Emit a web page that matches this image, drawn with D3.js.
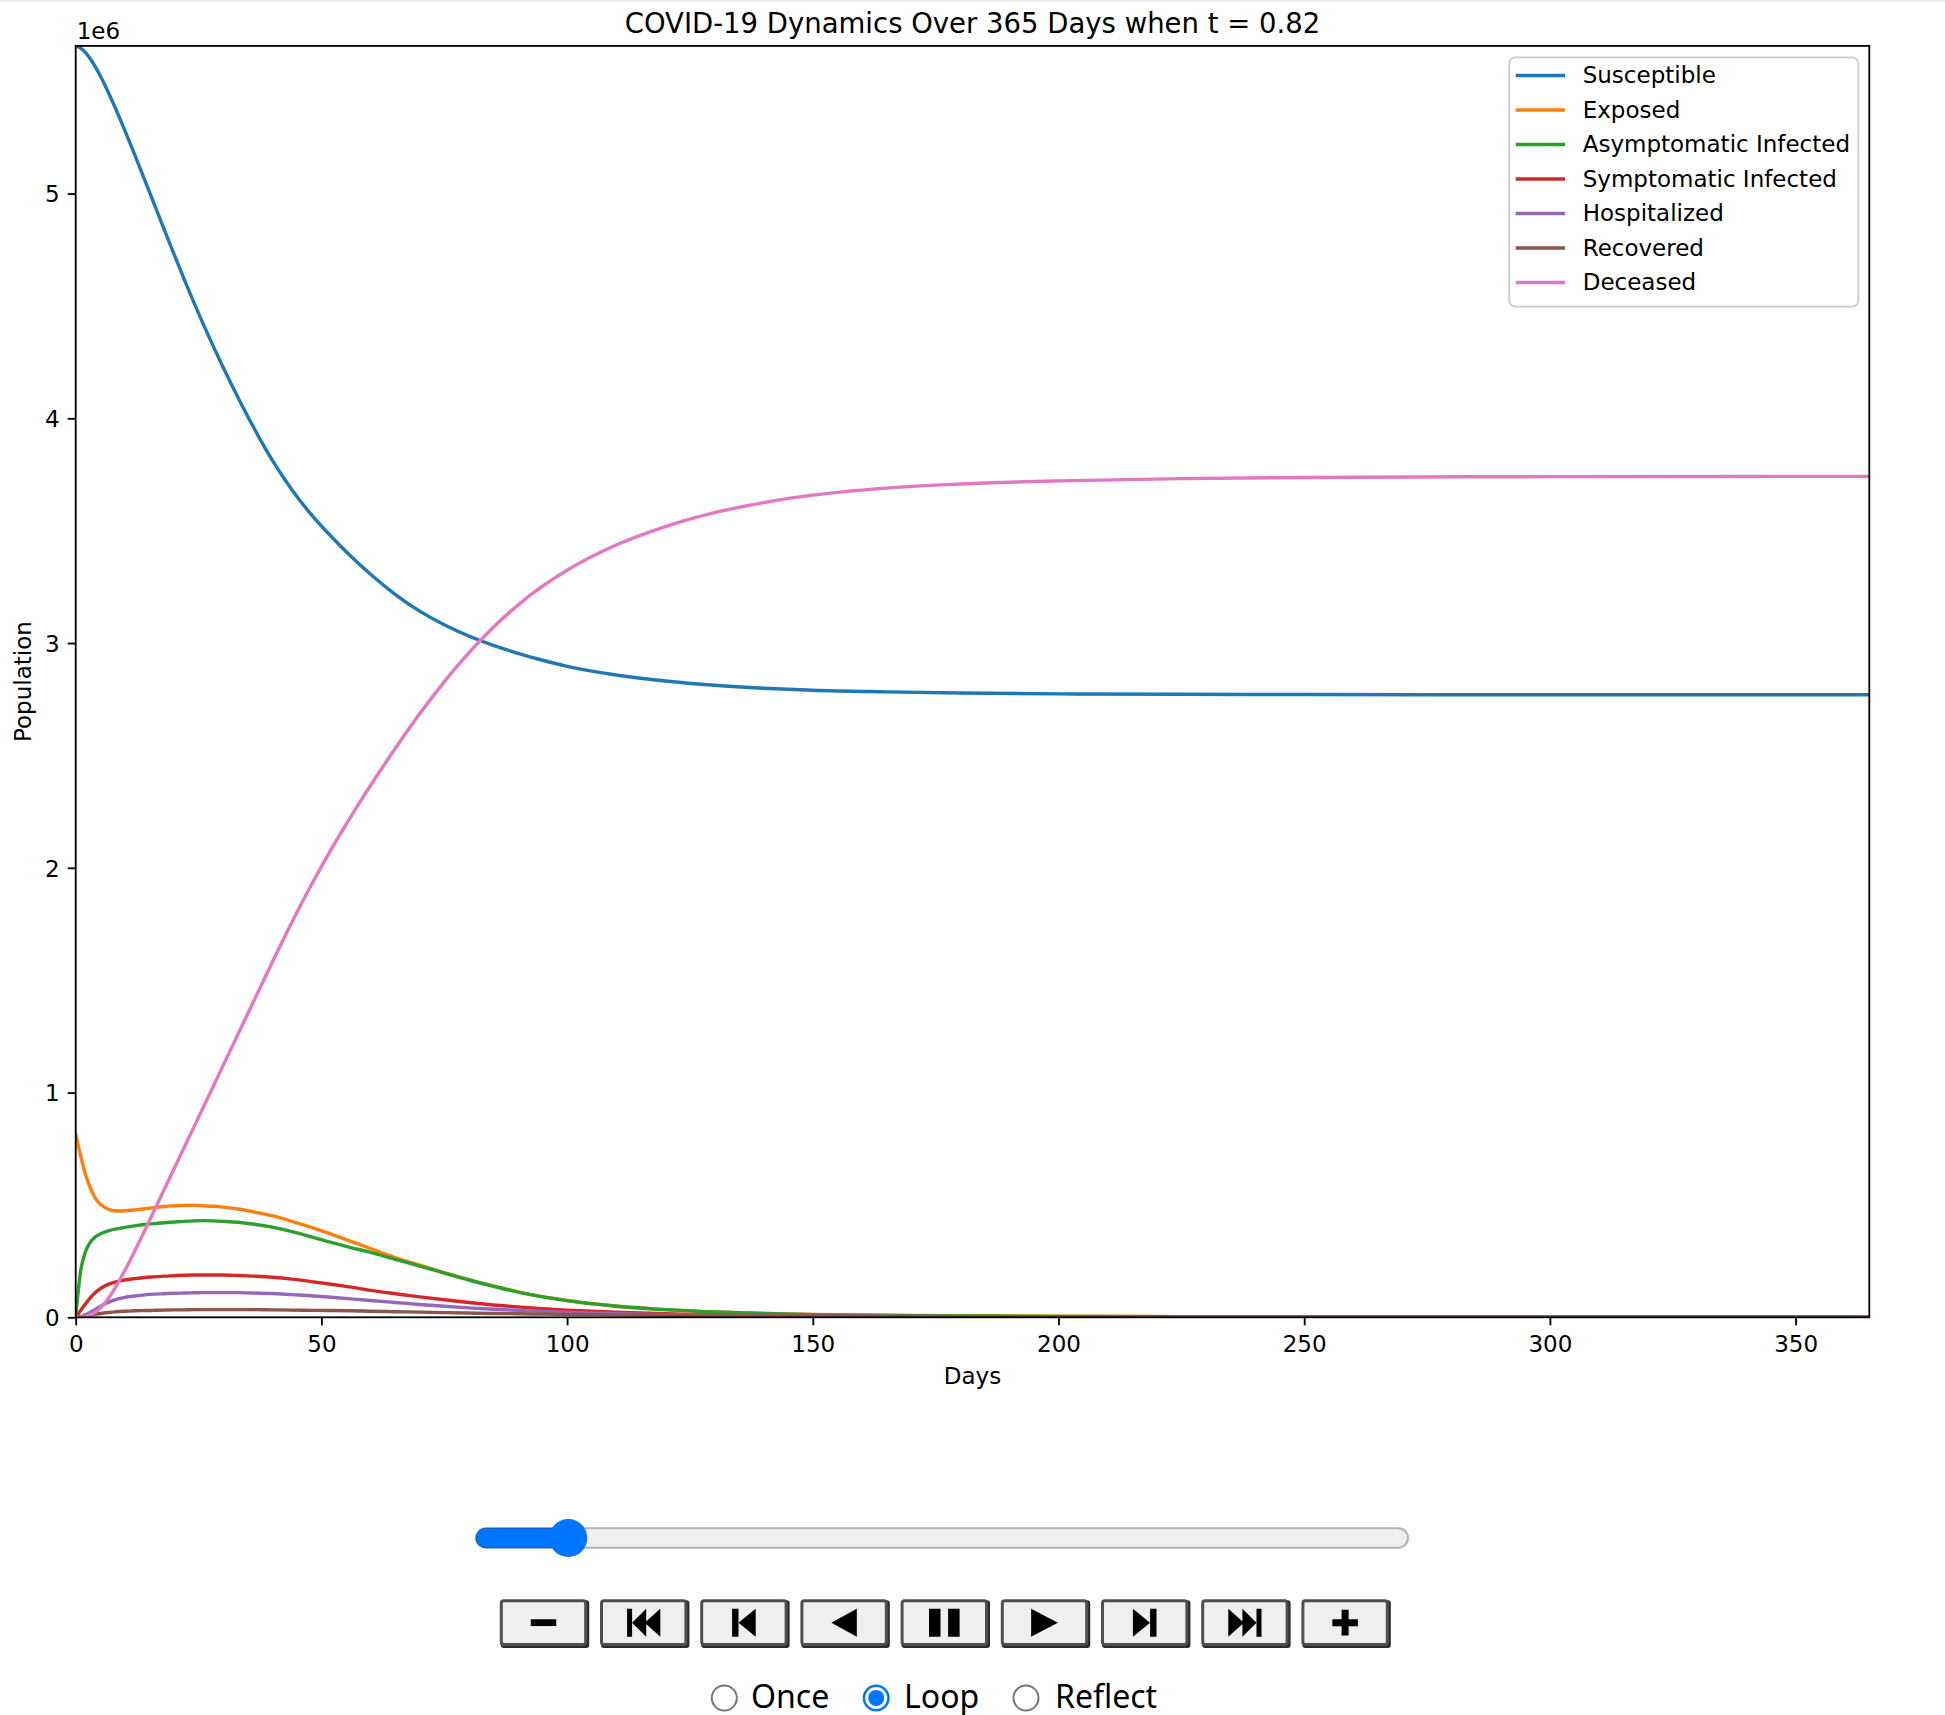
<!DOCTYPE html>
<html>
<head>
<meta charset="utf-8">
<script src="https://cdn.jsdelivr.net/npm/d3@7"></script>
<style>
  html, body { margin: 0; padding: 0; background: #ffffff; }
  svg { display: block; }
</style>
</head>
<body>
<svg id="chart" width="1945" height="1715"></svg>
<script>
// ---------------- DATA (values in units of 1e6 people) ----------------
const days = [0,1,2,3,4,5,6,7,8,9,10,12,14,16,18,20,22,24,26,28,30,33,36,40,44,48,52,56,60,65,70,75,80,85,90,95,100,110,120,130,140,150,165,180,200,225,250,300,365];

const susceptible = [5.657,5.647,5.627,5.599,5.564,5.524,5.480,5.433,5.384,5.333,5.281,5.173,5.063,4.952,4.841,4.731,4.623,4.518,4.417,4.320,4.227,4.094,3.968,3.814,3.682,3.570,3.474,3.386,3.306,3.217,3.142,3.0815,3.0315,2.990,2.9545,2.9235,2.8965,2.858,2.831,2.812,2.799,2.790,2.783,2.778,2.774,2.772,2.771,2.770,2.770];

const exposed = [0.815,0.72,0.635,0.575,0.53,0.503,0.488,0.478,0.474,0.473,0.474,0.478,0.483,0.488,0.493,0.496,0.498,0.498,0.496,0.494,0.49,0.482,0.47,0.452,0.427,0.4,0.37,0.338,0.306,0.266,0.232,0.199,0.168,0.14,0.113,0.092,0.075,0.05,0.034,0.024,0.017,0.013,0.009,0.007,0.005,0.003,0.002,0.001,0.001];

const asymptomatic = [0,0.205,0.292,0.335,0.358,0.371,0.38,0.387,0.392,0.396,0.4,0.407,0.413,0.417,0.421,0.424,0.427,0.429,0.43,0.429,0.427,0.423,0.415,0.401,0.381,0.358,0.333,0.31,0.289,0.258,0.228,0.197,0.166,0.138,0.112,0.091,0.074,0.049,0.034,0.024,0.017,0.012,0.008,0.006,0.004,0.003,0.002,0.001,0.001];

const symptomatic = [0,0.03,0.06,0.088,0.11,0.127,0.14,0.15,0.157,0.162,0.166,0.172,0.177,0.18,0.183,0.185,0.187,0.188,0.188,0.188,0.188,0.186,0.183,0.178,0.17,0.159,0.147,0.134,0.12,0.105,0.091,0.078,0.066,0.055,0.046,0.038,0.032,0.023,0.016,0.011,0.008,0.006,0.004,0.003,0.002,0.001,0.001,0.0005,0.0005];

const hospitalized = [0,0.003,0.012,0.023,0.035,0.048,0.06,0.07,0.078,0.084,0.089,0.095,0.1,0.103,0.105,0.107,0.108,0.109,0.11,0.11,0.11,0.11,0.108,0.106,0.101,0.096,0.089,0.082,0.075,0.066,0.057,0.049,0.042,0.036,0.031,0.026,0.022,0.016,0.012,0.009,0.007,0.005,0.004,0.003,0.002,0.001,0.001,0.0005,0.0005];

const recovered = [0,0.002,0.006,0.01,0.014,0.017,0.02,0.022,0.024,0.026,0.027,0.029,0.03,0.031,0.032,0.033,0.033,0.034,0.034,0.034,0.034,0.034,0.034,0.033,0.032,0.031,0.03,0.029,0.027,0.025,0.023,0.021,0.019,0.017,0.016,0.014,0.013,0.011,0.009,0.007,0.006,0.005,0.004,0.003,0.002,0.002,0.001,0.001,0.001];

const deceased = [0,0.001,0.004,0.011,0.023,0.041,0.065,0.095,0.13,0.168,0.208,0.294,0.384,0.476,0.568,0.66,0.752,0.844,0.936,1.028,1.12,1.258,1.396,1.58,1.758,1.926,2.082,2.228,2.366,2.53,2.685,2.8275,2.9565,3.0705,3.169,3.253,3.324,3.436,3.518,3.58,3.625,3.658,3.6895,3.7075,3.7215,3.7315,3.7365,3.7405,3.7418];

const seriesNames = ["Susceptible","Exposed","Asymptomatic Infected","Symptomatic Infected","Hospitalized","Recovered","Deceased"];
const seriesValues = [susceptible, exposed, asymptomatic, symptomatic, hospitalized, recovered, deceased];
const seriesColors = ["#1f77b4","#ff7f0e","#2ca02c","#d62728","#9467bd","#8c564b","#e377c2"];

const xTicks = [0,50,100,150,200,250,300,350];
const yTicks = [0,1,2,3,4,5];
const xDomain = [0,365];
const yDomain = [0,5.657];

const titleText = "COVID-19 Dynamics Over 365 Days when t = 0.82";
const xLabelText = "Days";
const yLabelText = "Population";
const offsetText = "1e6";
const playbackModes = ["Once","Loop","Reflect"];
const checkedMode = "Loop";
const buttonIcons = ["minus","fastBackward","stepBackward","playBackward","pause","play","stepForward","fastForward","plus"];
const sliderFraction = 0.0995;

// ---------------- LAYOUT ----------------
const svg = d3.select("#chart");
const P = { left: 75.7, right: 1869.3, top: 45.9, bottom: 1317.3 };
const FONT = "'DejaVu Sans', sans-serif";
const FS = 23;
const LW = 3.4;

svg.append("rect").attr("x",0).attr("y",0).attr("width",1945).attr("height",2).attr("fill","#ececec");

const x = d3.scaleLinear().domain(xDomain).range([P.left, P.right]);
const y = d3.scaleLinear().domain(yDomain).range([P.bottom, P.top]);

svg.append("defs").append("clipPath").attr("id","plotclip")
  .append("rect").attr("x",P.left).attr("y",P.top)
  .attr("width",P.right-P.left).attr("height",P.bottom-P.top);

// lines
const line = d3.line().x(d => x(d[0])).y(d => y(d[1])).curve(d3.curveMonotoneX);
const linesG = svg.append("g").attr("clip-path","url(#plotclip)");
seriesValues.forEach((vals, i) => {
  linesG.append("path")
    .datum(days.map((d, k) => [d, vals[k]]))
    .attr("d", line)
    .attr("fill","none")
    .attr("stroke", seriesColors[i])
    .attr("stroke-width", LW)
    .attr("stroke-linejoin","round")
    .attr("stroke-linecap","square");
});

// axes
const xAxis = d3.axisBottom(x).tickValues(xTicks).tickSize(8).tickPadding(10).tickFormat(d3.format("d"));
const yAxis = d3.axisLeft(y).tickValues(yTicks).tickSize(8).tickPadding(8).tickFormat(d3.format("d"));

const gx = svg.append("g").attr("transform",`translate(0,${P.bottom})`).call(xAxis);
const gy = svg.append("g").attr("transform",`translate(${P.left},0)`).call(yAxis);
[gx, gy].forEach(g => {
  g.select(".domain").remove();
  g.selectAll(".tick line").attr("stroke","#000").attr("stroke-width",1.83);
  g.selectAll(".tick text").attr("fill","#000").style("font-family",FONT).style("font-size",FS+"px");
});
gy.selectAll(".tick text").attr("dy","0.36em");

// spines
svg.append("rect")
  .attr("x",P.left).attr("y",P.top)
  .attr("width",P.right-P.left).attr("height",P.bottom-P.top)
  .attr("fill","none").attr("stroke","#000").attr("stroke-width",1.83);

// texts
svg.append("text").attr("x",(P.left+P.right)/2).attr("y",32.7)
  .attr("text-anchor","middle").style("font-family",FONT).style("font-size","27.5px")
  .attr("fill","#000").text(titleText);
svg.append("text").attr("x",P.left+1).attr("y",38.5)
  .style("font-family",FONT).style("font-size",FS+"px").attr("fill","#000").text(offsetText);
svg.append("text").attr("x",(P.left+P.right)/2).attr("y",1383.5)
  .attr("text-anchor","middle").style("font-family",FONT).style("font-size",FS+"px")
  .attr("fill","#000").text(xLabelText);
svg.append("text").attr("transform",`translate(30.5,${(P.top+P.bottom)/2}) rotate(-90)`)
  .attr("text-anchor","middle").style("font-family",FONT).style("font-size",FS+"px")
  .attr("fill","#000").text(yLabelText);

// legend
const L = { x0: 1509.3, y0: 57.3, x1: 1858.3, y1: 306.7, row0: 75.5, step: 34.5, hx0: 1517.4, hx1: 1563.3, tx: 1582.7 };
const lg = svg.append("g");
lg.append("rect").attr("x",L.x0).attr("y",L.y0).attr("width",L.x1-L.x0).attr("height",L.y1-L.y0)
  .attr("rx",6).attr("ry",6).attr("fill","#ffffff").attr("fill-opacity",0.8)
  .attr("stroke","#cccccc").attr("stroke-width",1.83);
seriesNames.forEach((name, i) => {
  const yy = L.row0 + i*L.step;
  lg.append("line").attr("x1",L.hx0).attr("x2",L.hx1).attr("y1",yy).attr("y2",yy)
    .attr("stroke",seriesColors[i]).attr("stroke-width",LW).attr("stroke-linecap","square");
  lg.append("text").attr("x",L.tx).attr("y",yy+7.8)
    .style("font-family",FONT).style("font-size",FS+"px").attr("fill","#000").text(name);
});

// ---------------- ANIMATION CONTROLS ----------------
const W = svg.append("g");
// slider
const S = { x0: 476, x1: 1408, cy: 1538, h: 19.4, r: 19 };
const thumbX = S.x0 + sliderFraction*(S.x1 - S.x0) - 0.5;
W.append("rect").attr("x",S.x0).attr("y",S.cy-S.h/2).attr("width",S.x1-S.x0).attr("height",S.h)
  .attr("rx",S.h/2).attr("fill","#efefef").attr("stroke","#b2b2b2").attr("stroke-width",2);
W.append("rect").attr("x",S.x0).attr("y",S.cy-S.h/2).attr("width",thumbX-S.x0).attr("height",S.h)
  .attr("rx",S.h/2).attr("fill","#0075ff").attr("stroke","#005cc8").attr("stroke-width",1);
W.append("circle").attr("cx",thumbX).attr("cy",S.cy).attr("r",S.r).attr("fill","#0075ff");

// buttons
const B = { x0: 499.8, step: 100.2, w: 87.4, y0: 1599.3, h: 46.7 };
const iconPaths = {
  minus:        "M-12.75,-3.4 h25.5 v6.8 h-25.5 z",
  plus:         "M-3.5,-12.8 h7 v9.3 h9.25 v7 h-9.25 v9.3 h-7 v-9.3 h-9.25 v-7 h9.25 z",
  playBackward: "M12.7,-14 L12.7,14 L-12.7,0 z",
  play:         "M-13.4,-14 L-13.4,14 L13.4,0 z",
  pause:        "M-15.3,-14 h11.5 v28 h-11.5 z M3.8,-14 h11.5 v28 h-11.5 z",
  stepBackward: "M-11.8,-14 h6.4 v28 h-6.4 z M-5.4,0 L11.8,-14 L11.8,14 z",
  stepForward:  "M11.8,-14 h-6.4 v28 h6.4 z M5.4,0 L-11.8,-14 L-11.8,14 z",
  fastBackward: "M-16.6,-14 h5 v28 h-5 z M-11.6,0 L2.5,-14 L2.5,14 z M1,0 L16.6,-14 L16.6,14 z",
  fastForward:  "M16.6,-14 h-5 v28 h5 z M11.6,0 L-2.5,-14 L-2.5,14 z M-1,0 L-16.6,-14 L-16.6,14 z"
};
buttonIcons.forEach((ic, i) => {
  const bx = B.x0 + i*B.step;
  const g = W.append("g");
  g.append("rect").attr("x",bx+1).attr("y",B.y0+1).attr("width",B.w+1).attr("height",B.h+1)
    .attr("rx",3).attr("fill","#2a2a2a");
  g.append("rect").attr("x",bx+1.5).attr("y",B.y0+1.5).attr("width",B.w-3).attr("height",B.h-3)
    .attr("rx",2.5).attr("fill","#efefef").attr("stroke","#4f4f4f").attr("stroke-width",3);
  g.append("path").attr("d",iconPaths[ic])
    .attr("transform",`translate(${bx+B.w/2},${B.y0+B.h/2})`).attr("fill","#000");
});

// radio buttons
const R = { cy: 1698, r: 13.5 };
const radioX = [724.3, 876.2, 1026];
const radioTextX = [751, 904, 1055];
playbackModes.forEach((m, i) => {
  const checked = (m === checkedMode);
  if (checked) {
    W.append("circle").attr("cx",radioX[i]).attr("cy",R.cy).attr("r",R.r-1.25)
      .attr("fill","#ffffff").attr("stroke","#0075ff").attr("stroke-width",2.5);
    W.append("circle").attr("cx",radioX[i]).attr("cy",R.cy).attr("r",R.r-5.5).attr("fill","#0075ff");
  } else {
    W.append("circle").attr("cx",radioX[i]).attr("cy",R.cy).attr("r",R.r-1)
      .attr("fill","#ffffff").attr("stroke","#767676").attr("stroke-width",2);
  }
  W.append("text").attr("x",radioTextX[i]).attr("y",1708)
    .style("font-family","'Noto Sans', sans-serif").style("font-size","32px")
    .attr("fill","#000").text(m);
});
</script>
</body>
</html>
